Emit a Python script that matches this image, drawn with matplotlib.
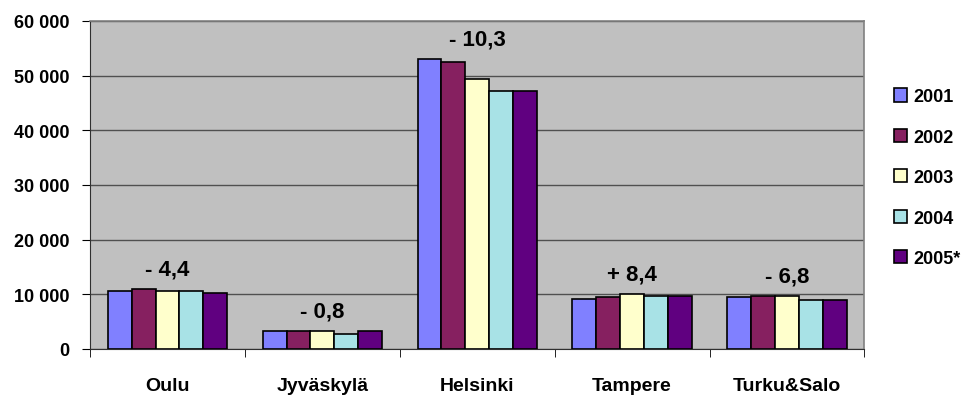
import matplotlib.pyplot as plt
import numpy as np

plt.rcParams['font.family'] = ['Liberation Sans', 'DejaVu Sans']

cities = ["Oulu", "Jyväskylä", "Helsinki", "Tampere", "Turku&Salo"]
years = ["2001", "2002", "2003", "2004", "2005*"]
values = {
    "2001": [10650, 3250, 53000, 9150, 9450],
    "2002": [10900, 3250, 52400, 9450, 9650],
    "2003": [10650, 3250, 49400, 10100, 9650],
    "2004": [10650, 2750, 47200, 9650, 8900],
    "2005*": [10300, 3250, 47200, 9650, 8950],
}
changes = ["- 4,4", "- 0,8", "- 10,3", "+ 8,4", "- 6,8"]
colors = ["#8080FF", "#862060", "#FFFFCC", "#A8E2E6", "#600080"]

fig = plt.figure(figsize=(9.68, 4.06), dpi=100)
ax = fig.add_axes([0.093, 0.138, 0.80, 0.808])
ax.set_facecolor("#C0C0C0")

x = np.arange(len(cities))
w = 0.154
for i, yr in enumerate(years):
    ax.bar(x + (i - 2) * w, values[yr], w, color=colors[i], edgecolor="black",
           linewidth=1.2, label=yr, zorder=3)

tops = np.max([values[yr] for yr in years], axis=0)
for xi, top, txt in zip(x, tops, changes):
    ax.annotate(txt, (xi, top), xytext=(0, 7), textcoords="offset points",
                ha="center", va="bottom", fontsize=16, fontweight="bold")

ax.set_xlim(-0.5, len(cities) - 0.5)
ax.set_ylim(0, 60000)
ax.set_yticks(np.arange(0, 60001, 10000))
ax.set_yticklabels([f"{v:,}".replace(",", " ") for v in range(0, 60001, 10000)],
                   fontsize=13, fontweight="bold")
ax.yaxis.grid(True, color="#505050", linewidth=1, zorder=0)
ax.set_xticks(x)
ax.set_xticklabels(cities, fontsize=14, fontweight="bold")
ax.set_xticks(np.arange(-0.5, len(cities), 1), minor=True)
ax.tick_params(axis="x", which="major", length=0, pad=20)
ax.tick_params(axis="x", which="minor", length=6, direction="out")
ax.tick_params(axis="y", length=6, direction="out", pad=9)
for s in ["top", "right"]:
    ax.spines[s].set_color("#808080")
    ax.spines[s].set_linewidth(1.2)
ax.spines["left"].set_color("#303030")
ax.spines["bottom"].set_color("#303030")

fig.legend(loc="center left", bbox_to_anchor=(0.912, 0.56), frameon=False,
           prop={"weight": "bold", "size": 13}, handlelength=0.75,
           handleheight=0.75, labelspacing=1.3, handletextpad=0.35,
           borderaxespad=0.2)

fig.savefig("out.png", dpi=100)
